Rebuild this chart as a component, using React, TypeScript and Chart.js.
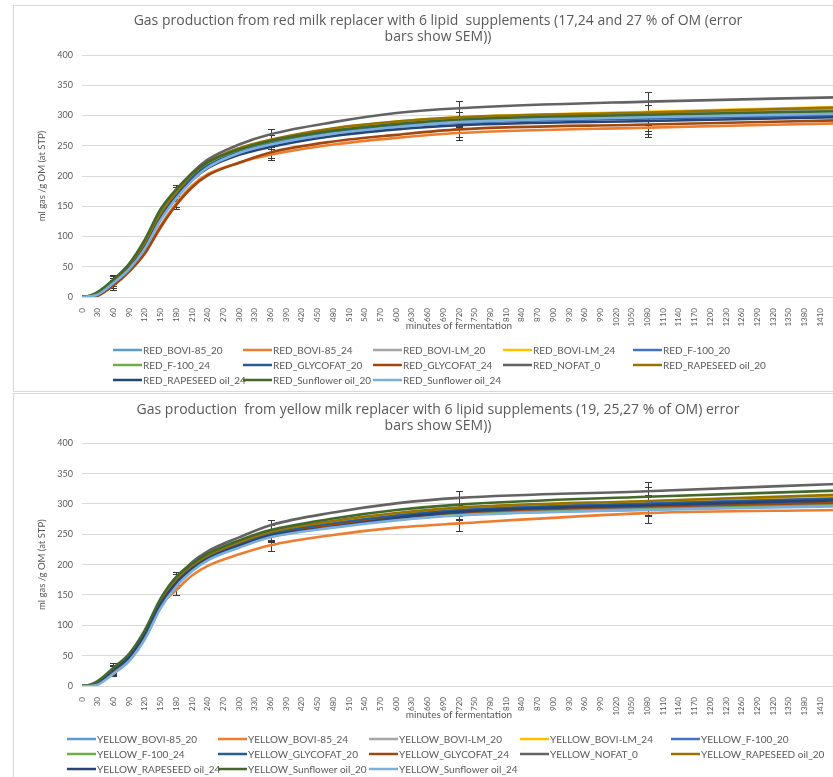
import React, { useEffect, useRef } from 'react';
import { Chart, registerables } from 'chart.js';
Chart.register(...registerables);

const FONT = 'Lato, "Open Sans", sans-serif';
const TITLE_FONT = '"Open Sans", Lato, sans-serif';
const TEXT = '#595959';
const GRID = '#d9d9d9';

const MINUTES = [0, 15, 30, 60, 90, 120, 150, 180, 210, 240, 300, 360, 480, 600, 720, 1080, 1440];
const ERROR_MINUTES = [60, 180, 360, 720, 1080, 1440];
const ERROR_TREATMENTS = ['NOFAT_0', 'Sunflower oil_20', 'RAPESEED oil_24', 'GLYCOFAT_24', 'BOVI-85_24'];
const RED_SEM = [8, 7, 9, 12, 16, 16];
const YELLOW_SEM = [8, 8, 9, 12, 16, 16];

const TREATMENTS = ['BOVI-85_20', 'BOVI-85_24', 'BOVI-LM_20', 'BOVI-LM_24', 'F-100_20', 'F-100_24', 'GLYCOFAT_20', 'GLYCOFAT_24', 'NOFAT_0', 'RAPESEED oil_20', 'RAPESEED oil_24', 'Sunflower oil_20', 'Sunflower oil_24'];
const COLORS = ['#5B9BD5', '#ED7D31', '#A5A5A5', '#FFC000', '#4472C4', '#70AD47', '#255E91', '#9E480E', '#636363', '#997300', '#264478', '#43682B', '#7CAFDD'];

// RED milk replacer (ml gas / g OM)
const RED_BOVI85_20 = [0, 1, 5, 24, 49, 85, 133, 168, 196, 217, 240, 254, 272, 283, 290, 298, 304];
const RED_BOVI85_24 = [0, 0, 2, 20, 43, 74, 118, 155, 184, 203, 222, 235, 252, 263, 271, 280, 287];
const RED_BOVILM_20 = [0, 1, 5, 25, 50, 87, 135, 170, 198, 219, 242, 256, 275, 287, 294, 303, 310];
const RED_BOVILM_24 = [0, 1, 6, 26, 51, 89, 137, 172, 200, 221, 245, 259, 278, 290, 297, 306, 314];
const RED_F100_20 = [0, 1, 5, 24, 49, 85, 133, 168, 196, 216, 238, 252, 270, 281, 288, 295, 300];
const RED_F100_24 = [0, 2, 8, 28, 54, 93, 143, 176, 203, 222, 243, 257, 274, 285, 292, 299, 305];
const RED_GLYCOFAT_20 = [0, 1, 5, 25, 50, 87, 135, 170, 197, 217, 239, 253, 271, 282, 289, 296, 302];
const RED_GLYCOFAT_24 = [0, 0, 2, 19, 42, 72, 115, 152, 181, 201, 222, 239, 257, 268, 277, 285, 292];
const RED_NOFAT_0 = [0, 1, 6, 27, 52, 90, 138, 174, 205, 227, 252, 269, 289, 304, 312, 323, 330];
const RED_RAPESEED_20 = [0, 1, 6, 27, 52, 90, 139, 173, 202, 223, 246, 260, 279, 290, 297, 305, 313];
const RED_RAPESEED_24 = [0, 1, 4, 23, 47, 82, 129, 165, 193, 213, 235, 248, 266, 277, 284, 291, 297];
const RED_SUNFLOWER_20 = [0, 2, 8, 29, 55, 95, 145, 178, 204, 223, 244, 258, 275, 286, 293, 301, 307];
const RED_SUNFLOWER_24 = [0, 1, 4, 23, 46, 80, 127, 163, 192, 214, 238, 252, 270, 281, 289, 297, 303];

// YELLOW milk replacer (ml gas / g OM)
const YEL_BOVI85_20 = [0, 0, 3, 22, 43, 79, 130, 166, 190, 208, 229, 246, 263, 275, 283, 293, 300];
const YEL_BOVI85_24 = [0, 1, 5, 25, 47, 83, 132, 158, 182, 198, 217, 232, 249, 261, 268, 285, 290];
const YEL_BOVILM_20 = [0, 1, 6, 27, 49, 86, 137, 174, 196, 213, 235, 252, 270, 283, 292, 303, 311];
const YEL_BOVILM_24 = [0, 1, 6, 28, 50, 87, 138, 175, 197, 214, 236, 253, 271, 284, 293, 304, 313];
const YEL_F100_20 = [0, 1, 5, 27, 49, 86, 137, 173, 196, 213, 234, 251, 268, 281, 290, 301, 309];
const YEL_F100_24 = [0, 1, 5, 26, 47, 84, 134, 169, 192, 209, 230, 246, 262, 274, 282, 291, 298];
const YEL_GLYCOFAT_20 = [0, 1, 5, 26, 48, 85, 136, 172, 195, 212, 233, 250, 267, 280, 289, 300, 308];
const YEL_GLYCOFAT_24 = [0, 1, 5, 26, 48, 84, 134, 170, 193, 210, 231, 247, 265, 277, 286, 296, 302];
const YEL_NOFAT_0 = [0, 1, 6, 27, 50, 87, 139, 177, 204, 222, 245, 265, 286, 301, 310, 321, 333];
const YEL_RAPESEED_20 = [0, 1, 6, 28, 50, 88, 139, 176, 198, 215, 237, 254, 272, 285, 294, 305, 315];
const YEL_RAPESEED_24 = [0, 1, 5, 27, 48, 85, 135, 170, 193, 210, 231, 248, 262, 277, 287, 298, 306];
const YEL_SUNFLOWER_20 = [0, 2, 8, 30, 53, 92, 144, 180, 201, 218, 240, 257, 276, 290, 299, 312, 322];
const YEL_SUNFLOWER_24 = [0, 0, 2, 20, 41, 77, 128, 164, 189, 207, 228, 245, 261, 273, 281, 290, 296];

const RED_SERIES = [RED_BOVI85_20, RED_BOVI85_24, RED_BOVILM_20, RED_BOVILM_24, RED_F100_20, RED_F100_24, RED_GLYCOFAT_20, RED_GLYCOFAT_24, RED_NOFAT_0, RED_RAPESEED_20, RED_RAPESEED_24, RED_SUNFLOWER_20, RED_SUNFLOWER_24];
const YEL_SERIES = [YEL_BOVI85_20, YEL_BOVI85_24, YEL_BOVILM_20, YEL_BOVILM_24, YEL_F100_20, YEL_F100_24, YEL_GLYCOFAT_20, YEL_GLYCOFAT_24, YEL_NOFAT_0, YEL_RAPESEED_20, YEL_RAPESEED_24, YEL_SUNFLOWER_20, YEL_SUNFLOWER_24];

const RED_TITLE = ['Gas production from red milk replacer with 6 lipid  supplements (17,24 and 27 % of OM (error', 'bars show SEM))'];
const YEL_TITLE = ['Gas production  from yellow milk replacer with 6 lipid supplements (19, 25,27 % of OM) error', 'bars show SEM))'];

const errorBars = {
  id: 'errorBars',
  beforeDatasetsDraw(chart: any, _a: any, opts: any) {
    const { ctx, scales } = chart;
    const x = scales.x, y = scales.y;
    ctx.save();
    ctx.strokeStyle = '#3a3a3a';
    ctx.lineWidth = 1;
    chart.data.datasets.forEach((ds: any, i: number) => {
      if (!chart.isDatasetVisible(i) || !opts.treatments.includes(TREATMENTS[i])) return;
      opts.minutes.forEach((m: number, j: number) => {
        const pt = ds.data.find((p: any) => p.x === m);
        if (!pt) return;
        const px = Math.round(x.getPixelForValue(m)) + 0.5;
        const top = Math.round(y.getPixelForValue(pt.y + opts.sem[j])) + 0.5;
        const bot = Math.round(y.getPixelForValue(pt.y - opts.sem[j])) + 0.5;
        ctx.beginPath();
        ctx.moveTo(px, top); ctx.lineTo(px, bot);
        ctx.moveTo(px - 3.5, top); ctx.lineTo(px + 3.5, top);
        ctx.moveTo(px - 3.5, bot); ctx.lineTo(px + 3.5, bot);
        ctx.stroke();
      });
    });
    ctx.restore();
  },
};

const wrapTitle = {
  id: 'wrapTitle',
  afterDraw(chart: any, _a: any, opts: any) {
    const ctx = chart.ctx;
    ctx.save();
    ctx.font = `${opts.size}px ${TITLE_FONT}`;
    ctx.fillStyle = TEXT;
    ctx.textAlign = 'center';
    ctx.textBaseline = 'middle';
    opts.lines.forEach((t: string, i: number) => ctx.fillText(t, opts.cx, opts.y0 + i * opts.lh));
    ctx.restore();
  },
};

const gridLegend = {
  id: 'gridLegend',
  afterDraw(chart: any, _a: any, opts: any) {
    const ctx = chart.ctx;
    ctx.save();
    ctx.font = `${opts.size}px ${FONT}`;
    ctx.textBaseline = 'middle';
    ctx.textAlign = 'left';
    chart.data.datasets.forEach((ds: any, i: number) => {
      const col = i % opts.cols;
      const row = Math.floor(i / opts.cols);
      const lx = opts.x0 + col * opts.colW;
      const ly = opts.y0 + row * opts.rowH;
      ctx.strokeStyle = ds.borderColor;
      ctx.lineWidth = 2.5;
      ctx.beginPath();
      ctx.moveTo(lx, ly); ctx.lineTo(lx + opts.lineLen, ly);
      ctx.stroke();
      ctx.fillStyle = TEXT;
      ctx.fillText(ds.label, lx + opts.lineLen + 1, ly + 0.5);
    });
    ctx.restore();
  },
};

type Cfg = {
  prefix: string; series: number[][]; sem: number[]; title: string[];
  height: number; padTop: number; titleY: number; padBottom: number;
  legend: { x0: number; y0: number; colW: number };
};

function GasChart({ cfg }: { cfg: Cfg }) {
  const ref = useRef<HTMLCanvasElement>(null);
  useEffect(() => {
    if (!ref.current) return;
    const datasets = cfg.series.map((vals, i) => ({
      label: `${cfg.prefix}_${TREATMENTS[i]}`,
      data: MINUTES.map((m, k) => ({ x: m, y: vals[k] })),
      borderColor: COLORS[i],
      backgroundColor: COLORS[i],
      borderWidth: 2.6,
      pointRadius: 0,
      cubicInterpolationMode: 'monotone' as const,
      fill: false,
      order: -i,
    }));
    const chart = new Chart(ref.current, {
      type: 'line',
      data: { datasets },
      plugins: [errorBars, wrapTitle, gridLegend],
      options: {
        animation: false,
        responsive: false,
        devicePixelRatio: 1,
        layout: { padding: { left: 0, right: 28, top: cfg.padTop, bottom: cfg.padBottom } },
        plugins: {
          legend: { display: false },
          tooltip: { enabled: false },
          title: { display: false },
          wrapTitle: { lines: cfg.title, cx: 424, y0: cfg.titleY, lh: 16, size: 14 },
          errorBars: { minutes: ERROR_MINUTES, sem: cfg.sem, treatments: ERROR_TREATMENTS },
          gridLegend: { ...cfg.legend, cols: 5, rowH: 15, lineLen: 29, size: 10 },
        } as any,
        scales: {
          x: {
            type: 'linear',
            min: 0,
            max: 1440,
            afterFit: (s: any) => { s.height = 41; },
            grid: { display: false },
            border: { display: true, color: GRID },
            ticks: {
              stepSize: 30, autoSkip: false, minRotation: 90, maxRotation: 90,
              padding: 3, color: TEXT, font: { family: FONT, size: 8 },
              callback: (v: any) => String(v),
            },
            title: {
              display: true, text: 'minutes of fermentation', color: TEXT,
              font: { family: FONT, size: 10, lineHeight: 1.2 }, padding: { top: 0, bottom: 6 },
            },
          },
          y: {
            min: 0,
            max: 400,
            afterFit: (s: any) => { s.width = 68; },
            grid: { color: GRID, lineWidth: 1, drawTicks: false },
            border: { display: false },
            ticks: { stepSize: 50, padding: 9, color: TEXT, font: { family: FONT, size: 9 } },
            title: {
              display: true, text: 'ml gas /g OM (at STP)', color: TEXT,
              font: { family: FONT, size: 9.5, lineHeight: 1.2 }, padding: { top: 22, bottom: 0 },
            },
          },
        },
      } as any,
    });
    return () => chart.destroy();
  }, [cfg]);
  return <canvas ref={ref} width={850} height={cfg.height} style={{ display: 'block', width: 850, height: cfg.height }} />;
}

const RED_CFG: Cfg = {
  prefix: 'RED', series: RED_SERIES, sem: RED_SEM, title: RED_TITLE,
  height: 385, padTop: 49, titleY: 15, padBottom: 53,
  legend: { x0: 99, y0: 344, colW: 130 },
};
const YEL_CFG: Cfg = {
  prefix: 'YELLOW', series: YEL_SERIES, sem: YELLOW_SEM, title: YEL_TITLE,
  height: 384, padTop: 49.3, titleY: 16, padBottom: 51,
  legend: { x0: 53, y0: 345, colW: 151 },
};

export default function App() {
  const panel = (top: number, h: number): React.CSSProperties => ({
    position: 'absolute', left: 13, top, width: 880, height: h,
    border: `1px solid ${GRID}`, background: '#fff', overflow: 'hidden',
  });
  return (
    <div style={{ position: 'fixed', left: 0, top: 0, width: 833, height: 777, overflow: 'hidden', background: '#fff' }}>
      <div style={panel(5, 385)}><GasChart cfg={RED_CFG} /></div>
      <div style={panel(393, 390)}><GasChart cfg={YEL_CFG} /></div>
    </div>
  );
}
